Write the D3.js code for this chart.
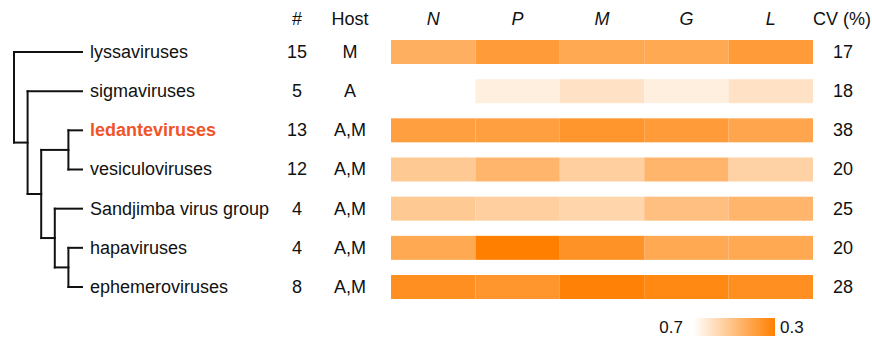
<!DOCTYPE html>
<html>
<head>
<meta charset="utf-8">
<script src="https://cdn.jsdelivr.net/npm/d3@7"></script>
<style>
  html, body { margin: 0; padding: 0; background: #fff; }
  svg { display: block; font-family: "Liberation Sans", Arial, sans-serif; }
</style>
</head>
<body>
<svg id="chart" width="872" height="339"></svg>
<script>
// Clades, top to bottom
const clades = ["lyssaviruses", "sigmaviruses", "ledanteviruses", "vesiculoviruses",
                "Sandjimba virus group", "hapaviruses", "ephemeroviruses"];
const counts = [15, 5, 13, 12, 4, 4, 8];
const hosts = ["M", "A", "A,M", "A,M", "A,M", "A,M", "A,M"];
const cv = [17, 18, 38, 20, 25, 20, 28];
const genes = ["N", "P", "M", "G", "L"];

// Per-gene values for each clade (null = not available)
const valN = [0.45, null, 0.40, 0.53, 0.53, 0.43, 0.35];
const valP = [0.39, 0.65, 0.40, 0.47, 0.55, 0.30, 0.37];
const valM = [0.43, 0.61, 0.37, 0.55, 0.57, 0.36, 0.31];
const valG = [0.43, 0.65, 0.39, 0.47, 0.50, 0.43, 0.33];
const valL = [0.39, 0.61, 0.42, 0.56, 0.47, 0.43, 0.35];

const legendTicks = [0.7, 0.3];
const highlight = "ledanteviruses";

// Topology of the cladogram
const tree = {children: [
  {name: "lyssaviruses"},
  {children: [
    {name: "sigmaviruses"},
    {children: [
      {children: [{name: "ledanteviruses"}, {name: "vesiculoviruses"}]},
      {children: [
        {name: "Sandjimba virus group"},
        {children: [{name: "hapaviruses"}, {name: "ephemeroviruses"}]}
      ]}
    ]}
  ]}
]};

const svg = d3.select("#chart");
const fontSize = 18;

const y = d3.scalePoint().domain(clades).range([52, 287]);
const x = d3.scaleBand().domain(genes).range([391, 813]);
const color = d3.scaleLinear().domain([0.7, 0.3]).range(["#ffffff", "#ff7f00"])
  .interpolate(d3.interpolateRgb).clamp(true);

// ---- cladogram ----
const root = d3.hierarchy(tree);
const depthX = d3.scaleLinear().domain([root.height, 0]).range([14, 82]);
root.eachAfter(n => {
  if (!n.children) { n.py = y(n.data.name); }
  else { n.py = d3.mean(n.children, c => c.py); }
  n.px = depthX(n.height);
});
const treeG = svg.append("g")
  .attr("fill", "none").attr("stroke", "#111").attr("stroke-width", 2)
  .attr("stroke-linecap", "square");
root.descendants().filter(n => n.children).forEach(n => {
  const ys = n.children.map(c => c.py);
  treeG.append("line").attr("x1", n.px).attr("x2", n.px)
    .attr("y1", d3.min(ys)).attr("y2", d3.max(ys));
  n.children.forEach(c => {
    treeG.append("line").attr("x1", n.px).attr("x2", c.px)
      .attr("y1", c.py).attr("y2", c.py);
  });
});

// ---- clade labels ----
svg.append("g").selectAll("text").data(clades).join("text")
  .attr("x", 90).attr("y", d => y(d)).attr("dy", "0.33em")
  .attr("font-size", fontSize)
  .attr("fill", d => d === highlight ? "#f0552a" : "#111")
  .attr("font-weight", d => d === highlight ? "bold" : "normal")
  .text(d => d);

// ---- column headers ----
const headerY = 25;
const header = svg.append("g").attr("font-size", fontSize).attr("fill", "#111")
  .attr("text-anchor", "middle");
header.append("text").attr("x", 297).attr("y", headerY).text("#");
header.append("text").attr("x", 350).attr("y", headerY).text("Host");
header.append("text").attr("x", 842).attr("y", headerY).text("CV (%)");
header.selectAll("text.gene").data(genes).join("text").attr("class", "gene")
  .attr("x", d => x(d) + x.bandwidth() / 2).attr("y", headerY)
  .attr("font-style", "italic").text(d => d);

// ---- count, host and CV columns ----
const cols = svg.append("g").attr("font-size", fontSize).attr("fill", "#111")
  .attr("text-anchor", "middle");
cols.selectAll("text.count").data(clades).join("text").attr("class", "count")
  .attr("x", 297).attr("y", d => y(d)).attr("dy", "0.33em")
  .text((d, i) => counts[i]);
cols.selectAll("text.host").data(clades).join("text").attr("class", "host")
  .attr("x", 350).attr("y", d => y(d)).attr("dy", "0.33em")
  .text((d, i) => hosts[i]);
cols.selectAll("text.cv").data(clades).join("text").attr("class", "cv")
  .attr("x", 843).attr("y", d => y(d)).attr("dy", "0.33em")
  .text((d, i) => cv[i]);

// ---- heatmap ----
const series = {N: valN, P: valP, M: valM, G: valG, L: valL};
const cells = [];
clades.forEach((c, i) => genes.forEach(g => cells.push({clade: c, gene: g, v: series[g][i]})));
const cellH = 24;
svg.append("g").selectAll("rect").data(cells.filter(d => d.v != null)).join("rect")
  .attr("x", d => x(d.gene)).attr("width", x.bandwidth())
  .attr("y", d => y(d.clade) - cellH / 2).attr("height", cellH)
  .attr("fill", d => color(d.v));

// ---- colour legend ----
const defs = svg.append("defs");
const grad = defs.append("linearGradient").attr("id", "legendGrad")
  .attr("x1", "0%").attr("x2", "100%");
d3.range(0, 1.0001, 0.1).forEach(t => {
  grad.append("stop").attr("offset", (t * 100) + "%")
    .attr("stop-color", color(0.7 + (0.3 - 0.7) * t));
});
const lx = d3.scaleLinear().domain(legendTicks).range([693, 775]);
svg.append("rect").attr("x", lx(0.7)).attr("y", 318)
  .attr("width", lx(0.3) - lx(0.7)).attr("height", 18)
  .attr("fill", "url(#legendGrad)");
svg.append("text").attr("x", lx(0.7) - 10).attr("y", 333)
  .attr("text-anchor", "end").attr("font-size", 17).attr("fill", "#111")
  .text(legendTicks[0]);
svg.append("text").attr("x", lx(0.3) + 5).attr("y", 333)
  .attr("text-anchor", "start").attr("font-size", 17).attr("fill", "#111")
  .text(legendTicks[1]);
</script>
</body>
</html>
